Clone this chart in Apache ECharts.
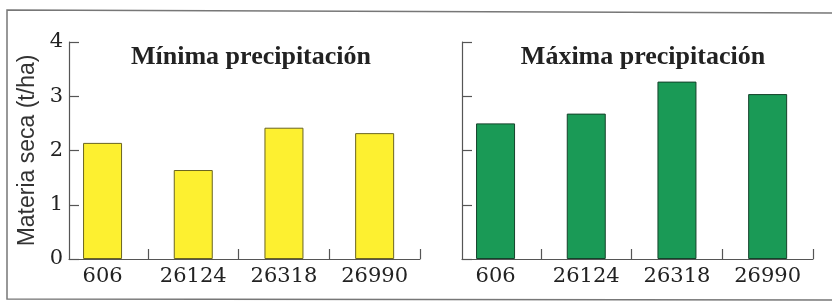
<!DOCTYPE html>
<html lang="es">
<head>
    <meta charset="UTF-8">
    <title>Materia seca por variedad</title>
    <style>
        html, body { margin: 0; padding: 0; background: #fff; }
        #container { width: 832px; height: 301px; }
    </style>
</head>
<body>
    <div id="container"></div>
    <script src="https://cdn.jsdelivr.net/npm/echarts@6/dist/echarts.min.js"></script>
    <script>
        // datos
        var variedades = ['606', '26124', '26318', '26990'];
        var minimaPrecip = [2.14, 1.64, 2.42, 2.32];
        var maximaPrecip = [2.50, 2.68, 3.27, 3.04];
        var yTicks = [0, 1, 2, 3, 4];

        var posiciones = variedades.map(function (v, i) { return i; });
        var separadores = posiciones.map(function (i) { return i + 0.5; });

        var serif = 'DejaVu Serif';
        var ejeColor = '#555';

        function ejeX(idx) {
            return {
                type: 'value',
                gridIndex: idx,
                min: -0.37,
                max: 3.5,
                splitLine: { show: false },
                axisLine: { onZero: false, lineStyle: { color: ejeColor, width: 1.2 } },
                axisTick: {
                    inside: true,
                    length: 10,
                    customValues: separadores,
                    lineStyle: { color: ejeColor, width: 1.2 }
                },
                axisLabel: {
                    customValues: posiciones,
                    formatter: function (v) { return variedades[Math.round(v)]; },
                    fontFamily: serif,
                    fontSize: 21,
                    color: '#222',
                    margin: 7
                }
            };
        }

        function ejeY(idx, etiquetas) {
            return {
                type: 'value',
                gridIndex: idx,
                min: yTicks[0],
                max: yTicks[yTicks.length - 1],
                interval: 1,
                splitLine: { show: false },
                axisLine: { show: true, onZero: false, lineStyle: { color: ejeColor, width: 1.2 } },
                axisTick: { show: true, inside: true, length: 10, lineStyle: { color: ejeColor, width: 1.2 } },
                axisLabel: {
                    show: etiquetas,
                    fontFamily: serif,
                    fontSize: 21,
                    color: '#222',
                    margin: 6
                },
                name: etiquetas ? 'Materia seca (t/ha)' : '',
                nameLocation: 'middle',
                nameRotate: 90,
                nameGap: 30,
                nameTextStyle: {
                    fontFamily: 'Liberation Sans',
                    fontSize: 23,
                    color: '#333'
                }
            };
        }

        function datos(valores) {
            return valores.map(function (v, i) { return [posiciones[i], v]; });
        }

        var myChart = echarts.init(document.getElementById('container'));
        var option = {
            animation: false,
            backgroundColor: '#fff',
            title: [{
                text: 'Mínima precipitación',
                left: 246,
                top: 39,
                textAlign: 'center',
                textStyle: { fontFamily: 'Liberation Serif', fontWeight: 'bold', fontSize: 26, color: '#222' }
            }, {
                text: 'Máxima precipitación',
                left: 638,
                top: 39,
                textAlign: 'center',
                textStyle: { fontFamily: 'Liberation Serif', fontWeight: 'bold', fontSize: 26, color: '#222' }
            }],
            grid: [
                { left: 69, top: 42, width: 351, height: 217 },
                { left: 462, top: 42, width: 351, height: 217 }
            ],
            xAxis: [ejeX(0), ejeX(1)],
            yAxis: [ejeY(0, true), ejeY(1, false)],
            series: [{
                type: 'bar',
                xAxisIndex: 0,
                yAxisIndex: 0,
                data: datos(minimaPrecip),
                barWidth: 39,
                itemStyle: { color: '#fdf030', borderColor: '#6a6420', borderWidth: 1 }
            }, {
                type: 'bar',
                xAxisIndex: 1,
                yAxisIndex: 1,
                data: datos(maximaPrecip),
                barWidth: 39,
                itemStyle: { color: '#1a9a56', borderColor: '#14422a', borderWidth: 1 }
            }],
            // marco de la figura
            graphic: [{
                type: 'polyline',
                shape: { points: [[832, 13], [7, 10], [7, 299], [832, 300]] },
                style: { stroke: '#777', lineWidth: 1.5, fill: null },
                silent: true
            }]
        };

        myChart.setOption(option);
    </script>
</body>
</html>
